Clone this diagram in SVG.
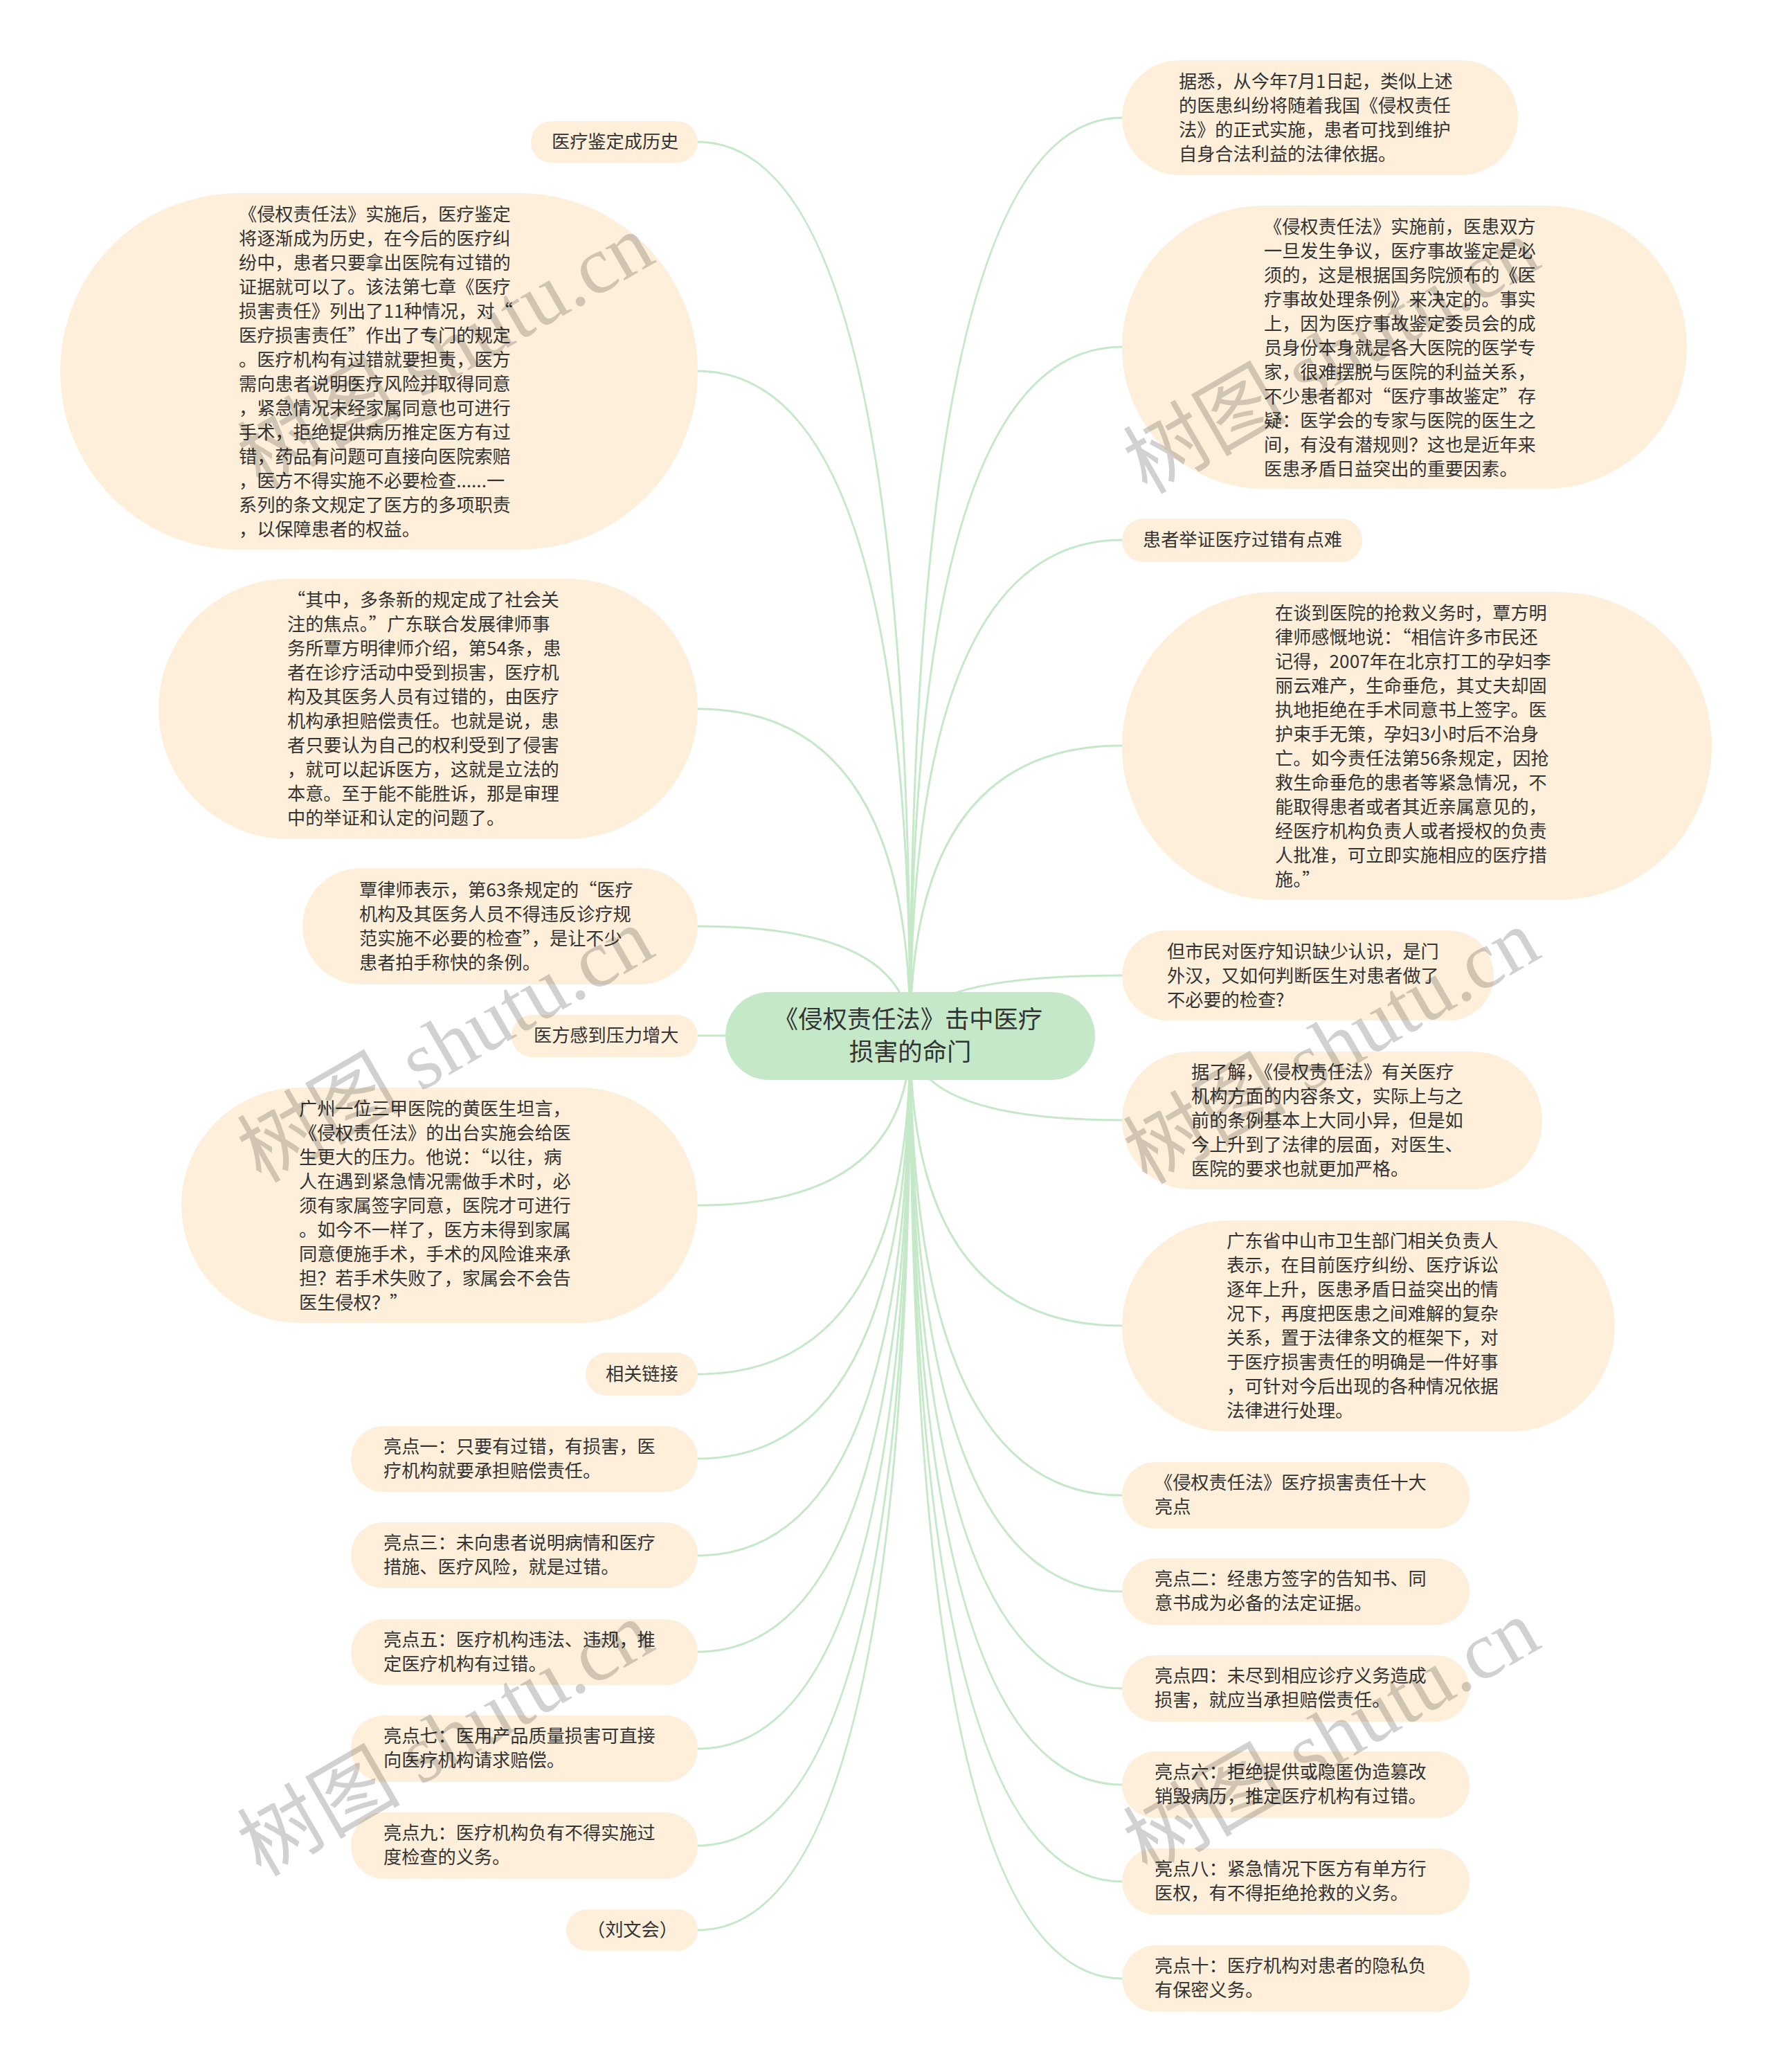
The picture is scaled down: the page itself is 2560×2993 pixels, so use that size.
<svg xmlns="http://www.w3.org/2000/svg" width="2560" height="2993" viewBox="0 0 2560 2993">
<style>
text{font-family:"Noto Sans CJK SC","Noto Sans",sans-serif;fill:#333}
.t{font-size:26.2px;transform:translateY(-1px)}
.q{font-feature-settings:"fwid"}
.n{fill:#FEEFDA}
.c{fill:#C5E9C8}
.cn{fill:none;stroke:#C5E9C8;stroke-width:3}
.root{font-size:35.3px;text-anchor:middle}
.wm{font-size:118px;fill:#000;fill-opacity:.18;font-family:"Liberation Serif","Noto Sans CJK SC",serif}
</style>
<rect width="2560" height="2993" fill="#fff"/>
<g id="connectors" class="cn">
<path d="M1315 1496Q1315 205 1008 205"/>
<path d="M1315 1496Q1315 536 1008 536"/>
<path d="M1315 1496Q1315 1024 1008 1024"/>
<path d="M1315 1496Q1315 1338 1008 1338"/>
<path d="M1315 1496Q1315 1496 1008 1496"/>
<path d="M1315 1496Q1315 1741 1008 1741"/>
<path d="M1315 1496Q1315 1985 1008 1985"/>
<path d="M1315 1496Q1315 2107 1008 2107"/>
<path d="M1315 1496Q1315 2247 1008 2247"/>
<path d="M1315 1496Q1315 2386 1008 2386"/>
<path d="M1315 1496Q1315 2526 1008 2526"/>
<path d="M1315 1496Q1315 2666 1008 2666"/>
<path d="M1315 1496Q1315 2788 1008 2788"/>
<path d="M1315 1496Q1315 170 1621 170"/>
<path d="M1315 1496Q1315 501 1621 501"/>
<path d="M1315 1496Q1315 780 1621 780"/>
<path d="M1315 1496Q1315 1077 1621 1077"/>
<path d="M1315 1496Q1315 1409 1621 1409"/>
<path d="M1315 1496Q1315 1618 1621 1618"/>
<path d="M1315 1496Q1315 1915 1621 1915"/>
<path d="M1315 1496Q1315 2160 1621 2160"/>
<path d="M1315 1496Q1315 2299 1621 2299"/>
<path d="M1315 1496Q1315 2439 1621 2439"/>
<path d="M1315 1496Q1315 2578 1621 2578"/>
<path d="M1315 1496Q1315 2718 1621 2718"/>
<path d="M1315 1496Q1315 2858 1621 2858"/>
</g>
<g id="root"><rect class="c" x="1048" y="1433" width="534" height="127" rx="63" ry="63"/><text class="root"><tspan x="1312" y="1485">《侵权责任法》击中医疗</tspan><tspan x="1315" y="1532">损害的命门</tspan></text></g>

<g id="l1"><rect class="n" x="767" y="175" width="241" height="60" rx="30"/><text class="t" x="797" y="215">医疗鉴定成历史</text></g>
<g id="l2"><rect class="n" x="87" y="279" width="921" height="515" rx="257"/><text class="t"><tspan x="345" y="320">《侵权责任法》实施后，医疗鉴定</tspan><tspan x="345" dy="35">将逐渐成为历史，在今后的医疗纠</tspan><tspan x="345" dy="35">纷中，患者只要拿出医院有过错的</tspan><tspan x="345" dy="35">证据就可以了。该法第七章《医疗</tspan><tspan x="345" dy="35">损害责任》列出了11种情况，对<tspan class="q">“</tspan></tspan><tspan x="345" dy="35">医疗损害责任<tspan class="q">”</tspan>作出了专门的规定</tspan><tspan x="345" dy="35">。医疗机构有过错就要担责，医方</tspan><tspan x="345" dy="35">需向患者说明医疗风险并取得同意</tspan><tspan x="345" dy="35">，紧急情况未经家属同意也可进行</tspan><tspan x="345" dy="35">手术，拒绝提供病历推定医方有过</tspan><tspan x="345" dy="35">错，药品有问题可直接向医院索赔</tspan><tspan x="345" dy="35">，医方不得实施不必要检查......一</tspan><tspan x="345" dy="35">系列的条文规定了医方的多项职责</tspan><tspan x="345" dy="35">，以保障患者的权益。</tspan></text></g>
<g id="l3"><rect class="n" x="229" y="836" width="779" height="376" rx="188"/><text class="t"><tspan x="415" y="877"><tspan class="q">“</tspan>其中，多条新的规定成了社会关</tspan><tspan x="415" dy="35">注的焦点。<tspan class="q">”</tspan>广东联合发展律师事</tspan><tspan x="415" dy="35">务所覃方明律师介绍，第54条，患</tspan><tspan x="415" dy="35">者在诊疗活动中受到损害，医疗机</tspan><tspan x="415" dy="35">构及其医务人员有过错的，由医疗</tspan><tspan x="415" dy="35">机构承担赔偿责任。也就是说，患</tspan><tspan x="415" dy="35">者只要认为自己的权利受到了侵害</tspan><tspan x="415" dy="35">，就可以起诉医方，这就是立法的</tspan><tspan x="415" dy="35">本意。至于能不能胜诉，那是审理</tspan><tspan x="415" dy="35">中的举证和认定的问题了。</tspan></text></g>
<g id="l4"><rect class="n" x="437" y="1254" width="571" height="168" rx="84"/><text class="t"><tspan x="519" y="1296">覃律师表示，第63条规定的<tspan class="q">“</tspan>医疗</tspan><tspan x="519" dy="35">机构及其医务人员不得违反诊疗规</tspan><tspan x="519" dy="35">范实施不必要的检查<tspan class="q">”</tspan>，是让不少</tspan><tspan x="519" dy="35">患者拍手称快的条例。</tspan></text></g>
<g id="l5"><rect class="n" x="739" y="1466" width="269" height="61" rx="30"/><text class="t" x="771" y="1506">医方感到压力增大</text></g>
<g id="l6"><rect class="n" x="262" y="1571" width="746" height="340" rx="170"/><text class="t"><tspan x="432" y="1612">广州一位三甲医院的黄医生坦言，</tspan><tspan x="432" dy="35">《侵权责任法》的出台实施会给医</tspan><tspan x="432" dy="35">生更大的压力。他说：<tspan class="q">“</tspan>以往，病</tspan><tspan x="432" dy="35">人在遇到紧急情况需做手术时，必</tspan><tspan x="432" dy="35">须有家属签字同意，医院才可进行</tspan><tspan x="432" dy="35">。如今不一样了，医方未得到家属</tspan><tspan x="432" dy="35">同意便施手术，手术的风险谁来承</tspan><tspan x="432" dy="35">担？若手术失败了，家属会不会告</tspan><tspan x="432" dy="35">医生侵权？<tspan class="q">”</tspan></tspan></text></g>
<g id="l7"><rect class="n" x="846" y="1954" width="162" height="62" rx="31"/><text class="t" x="875" y="1995">相关链接</text></g>
<g id="l8"><rect class="n" x="507" y="2060" width="501" height="95" rx="47"/><text class="t"><tspan x="554" y="2100">亮点一：只要有过错，有损害，医</tspan><tspan x="554" dy="35">疗机构就要承担赔偿责任。</tspan></text></g>
<g id="l9"><rect class="n" x="507" y="2199" width="501" height="95" rx="47"/><text class="t"><tspan x="554" y="2239">亮点三：未向患者说明病情和医疗</tspan><tspan x="554" dy="35">措施、医疗风险，就是过错。</tspan></text></g>
<g id="l10"><rect class="n" x="507" y="2339" width="501" height="95" rx="47"/><text class="t"><tspan x="554" y="2379">亮点五：医疗机构违法、违规，推</tspan><tspan x="554" dy="35">定医疗机构有过错。</tspan></text></g>
<g id="l11"><rect class="n" x="507" y="2478" width="501" height="96" rx="47"/><text class="t"><tspan x="554" y="2518">亮点七：医用产品质量损害可直接</tspan><tspan x="554" dy="35">向医疗机构请求赔偿。</tspan></text></g>
<g id="l12"><rect class="n" x="507" y="2618" width="501" height="96" rx="47"/><text class="t"><tspan x="554" y="2658">亮点九：医疗机构负有不得实施过</tspan><tspan x="554" dy="35">度检查的义务。</tspan></text></g>
<g id="l13"><rect class="n" x="818" y="2758" width="190" height="60" rx="30"/><text class="t" x="848" y="2798">（刘文会）</text></g>

<g id="r1"><rect class="n" x="1621" y="87" width="572" height="166" rx="83"/><text class="t"><tspan x="1703" y="128">据悉，从今年7月1日起，类似上述</tspan><tspan x="1703" dy="35">的医患纠纷将随着我国《侵权责任</tspan><tspan x="1703" dy="35">法》的正式实施，患者可找到维护</tspan><tspan x="1703" dy="35">自身合法利益的法律依据。</tspan></text></g>
<g id="r2"><rect class="n" x="1621" y="297" width="816" height="409" rx="204"/><text class="t"><tspan x="1826" y="338">《侵权责任法》实施前，医患双方</tspan><tspan x="1826" dy="35">一旦发生争议，医疗事故鉴定是必</tspan><tspan x="1826" dy="35">须的，这是根据国务院颁布的《医</tspan><tspan x="1826" dy="35">疗事故处理条例》来决定的。事实</tspan><tspan x="1826" dy="35">上，因为医疗事故鉴定委员会的成</tspan><tspan x="1826" dy="35">员身份本身就是各大医院的医学专</tspan><tspan x="1826" dy="35">家，很难摆脱与医院的利益关系，</tspan><tspan x="1826" dy="35">不少患者都对<tspan class="q">“</tspan>医疗事故鉴定<tspan class="q">”</tspan>存</tspan><tspan x="1826" dy="35">疑：医学会的专家与医院的医生之</tspan><tspan x="1826" dy="35">间，有没有潜规则？这也是近年来</tspan><tspan x="1826" dy="35">医患矛盾日益突出的重要因素。</tspan></text></g>
<g id="r3"><rect class="n" x="1621" y="749" width="347" height="63" rx="31"/><text class="t" x="1651" y="790">患者举证医疗过错有点难</text></g>
<g id="r4"><rect class="n" x="1621" y="855" width="852" height="445" rx="222"/><text class="t"><tspan x="1842" y="896">在谈到医院的抢救义务时，覃方明</tspan><tspan x="1842" dy="35">律师感慨地说：<tspan class="q">“</tspan>相信许多市民还</tspan><tspan x="1842" dy="35">记得，2007年在北京打工的孕妇李</tspan><tspan x="1842" dy="35">丽云难产，生命垂危，其丈夫却固</tspan><tspan x="1842" dy="35">执地拒绝在手术同意书上签字。医</tspan><tspan x="1842" dy="35">护束手无策，孕妇3小时后不治身</tspan><tspan x="1842" dy="35">亡。如今责任法第56条规定，因抢</tspan><tspan x="1842" dy="35">救生命垂危的患者等紧急情况，不</tspan><tspan x="1842" dy="35">能取得患者或者其近亲属意见的，</tspan><tspan x="1842" dy="35">经医疗机构负责人或者授权的负责</tspan><tspan x="1842" dy="35">人批准，可立即实施相应的医疗措</tspan><tspan x="1842" dy="35">施。<tspan class="q">”</tspan></tspan></text></g>
<g id="r5"><rect class="n" x="1621" y="1344" width="537" height="130" rx="65"/><text class="t"><tspan x="1686" y="1385">但市民对医疗知识缺少认识，是门</tspan><tspan x="1686" dy="35">外汉，又如何判断医生对患者做了</tspan><tspan x="1686" dy="35">不必要的检查?</tspan></text></g>
<g id="r6"><rect class="n" x="1621" y="1519" width="607" height="199" rx="99"/><text class="t"><tspan x="1721" y="1559">据了解，《侵权责任法》有关医疗</tspan><tspan x="1721" dy="35">机构方面的内容条文，实际上与之</tspan><tspan x="1721" dy="35">前的条例基本上大同小异，但是如</tspan><tspan x="1721" dy="35">今上升到了法律的层面，对医生、</tspan><tspan x="1721" dy="35">医院的要求也就更加严格。</tspan></text></g>
<g id="r7"><rect class="n" x="1621" y="1763" width="712" height="305" rx="152"/><text class="t"><tspan x="1772" y="1803">广东省中山市卫生部门相关负责人</tspan><tspan x="1772" dy="35">表示，在目前医疗纠纷、医疗诉讼</tspan><tspan x="1772" dy="35">逐年上升，医患矛盾日益突出的情</tspan><tspan x="1772" dy="35">况下，再度把医患之间难解的复杂</tspan><tspan x="1772" dy="35">关系，置于法律条文的框架下，对</tspan><tspan x="1772" dy="35">于医疗损害责任的明确是一件好事</tspan><tspan x="1772" dy="35">，可针对今后出现的各种情况依据</tspan><tspan x="1772" dy="35">法律进行处理。</tspan></text></g>
<g id="r8"><rect class="n" x="1621" y="2112" width="502" height="96" rx="48"/><text class="t"><tspan x="1668" y="2152">《侵权责任法》医疗损害责任十大</tspan><tspan x="1668" dy="35">亮点</tspan></text></g>
<g id="r9"><rect class="n" x="1621" y="2251" width="502" height="96" rx="48"/><text class="t"><tspan x="1668" y="2291">亮点二：经患方签字的告知书、同</tspan><tspan x="1668" dy="35">意书成为必备的法定证据。</tspan></text></g>
<g id="r10"><rect class="n" x="1621" y="2391" width="502" height="96" rx="48"/><text class="t"><tspan x="1668" y="2431">亮点四：未尽到相应诊疗义务造成</tspan><tspan x="1668" dy="35">损害，就应当承担赔偿责任。</tspan></text></g>
<g id="r11"><rect class="n" x="1621" y="2530" width="502" height="96" rx="48"/><text class="t"><tspan x="1668" y="2570">亮点六：拒绝提供或隐匿伪造篡改</tspan><tspan x="1668" dy="35">销毁病历，推定医疗机构有过错。</tspan></text></g>
<g id="r12"><rect class="n" x="1621" y="2670" width="502" height="96" rx="48"/><text class="t"><tspan x="1668" y="2710">亮点八：紧急情况下医方有单方行</tspan><tspan x="1668" dy="35">医权，有不得拒绝抢救的义务。</tspan></text></g>
<g id="r13"><rect class="n" x="1621" y="2810" width="502" height="96" rx="48"/><text class="t"><tspan x="1668" y="2850">亮点十：医疗机构对患者的隐私负</tspan><tspan x="1668" dy="35">有保密义务。</tspan></text></g>

<g id="watermarks">
<text class="wm" transform="translate(377 708) rotate(-30)">树图 shutu.cn</text>
<text class="wm" transform="translate(1657 715) rotate(-30)">树图 shutu.cn</text>
<text class="wm" transform="translate(377 1710) rotate(-30)">树图 shutu.cn</text>
<text class="wm" transform="translate(1657 1712) rotate(-30)">树图 shutu.cn</text>
<text class="wm" transform="translate(377 2712) rotate(-30)">树图 shutu.cn</text>
<text class="wm" transform="translate(1657 2709) rotate(-30)">树图 shutu.cn</text>
</g>
</svg>
